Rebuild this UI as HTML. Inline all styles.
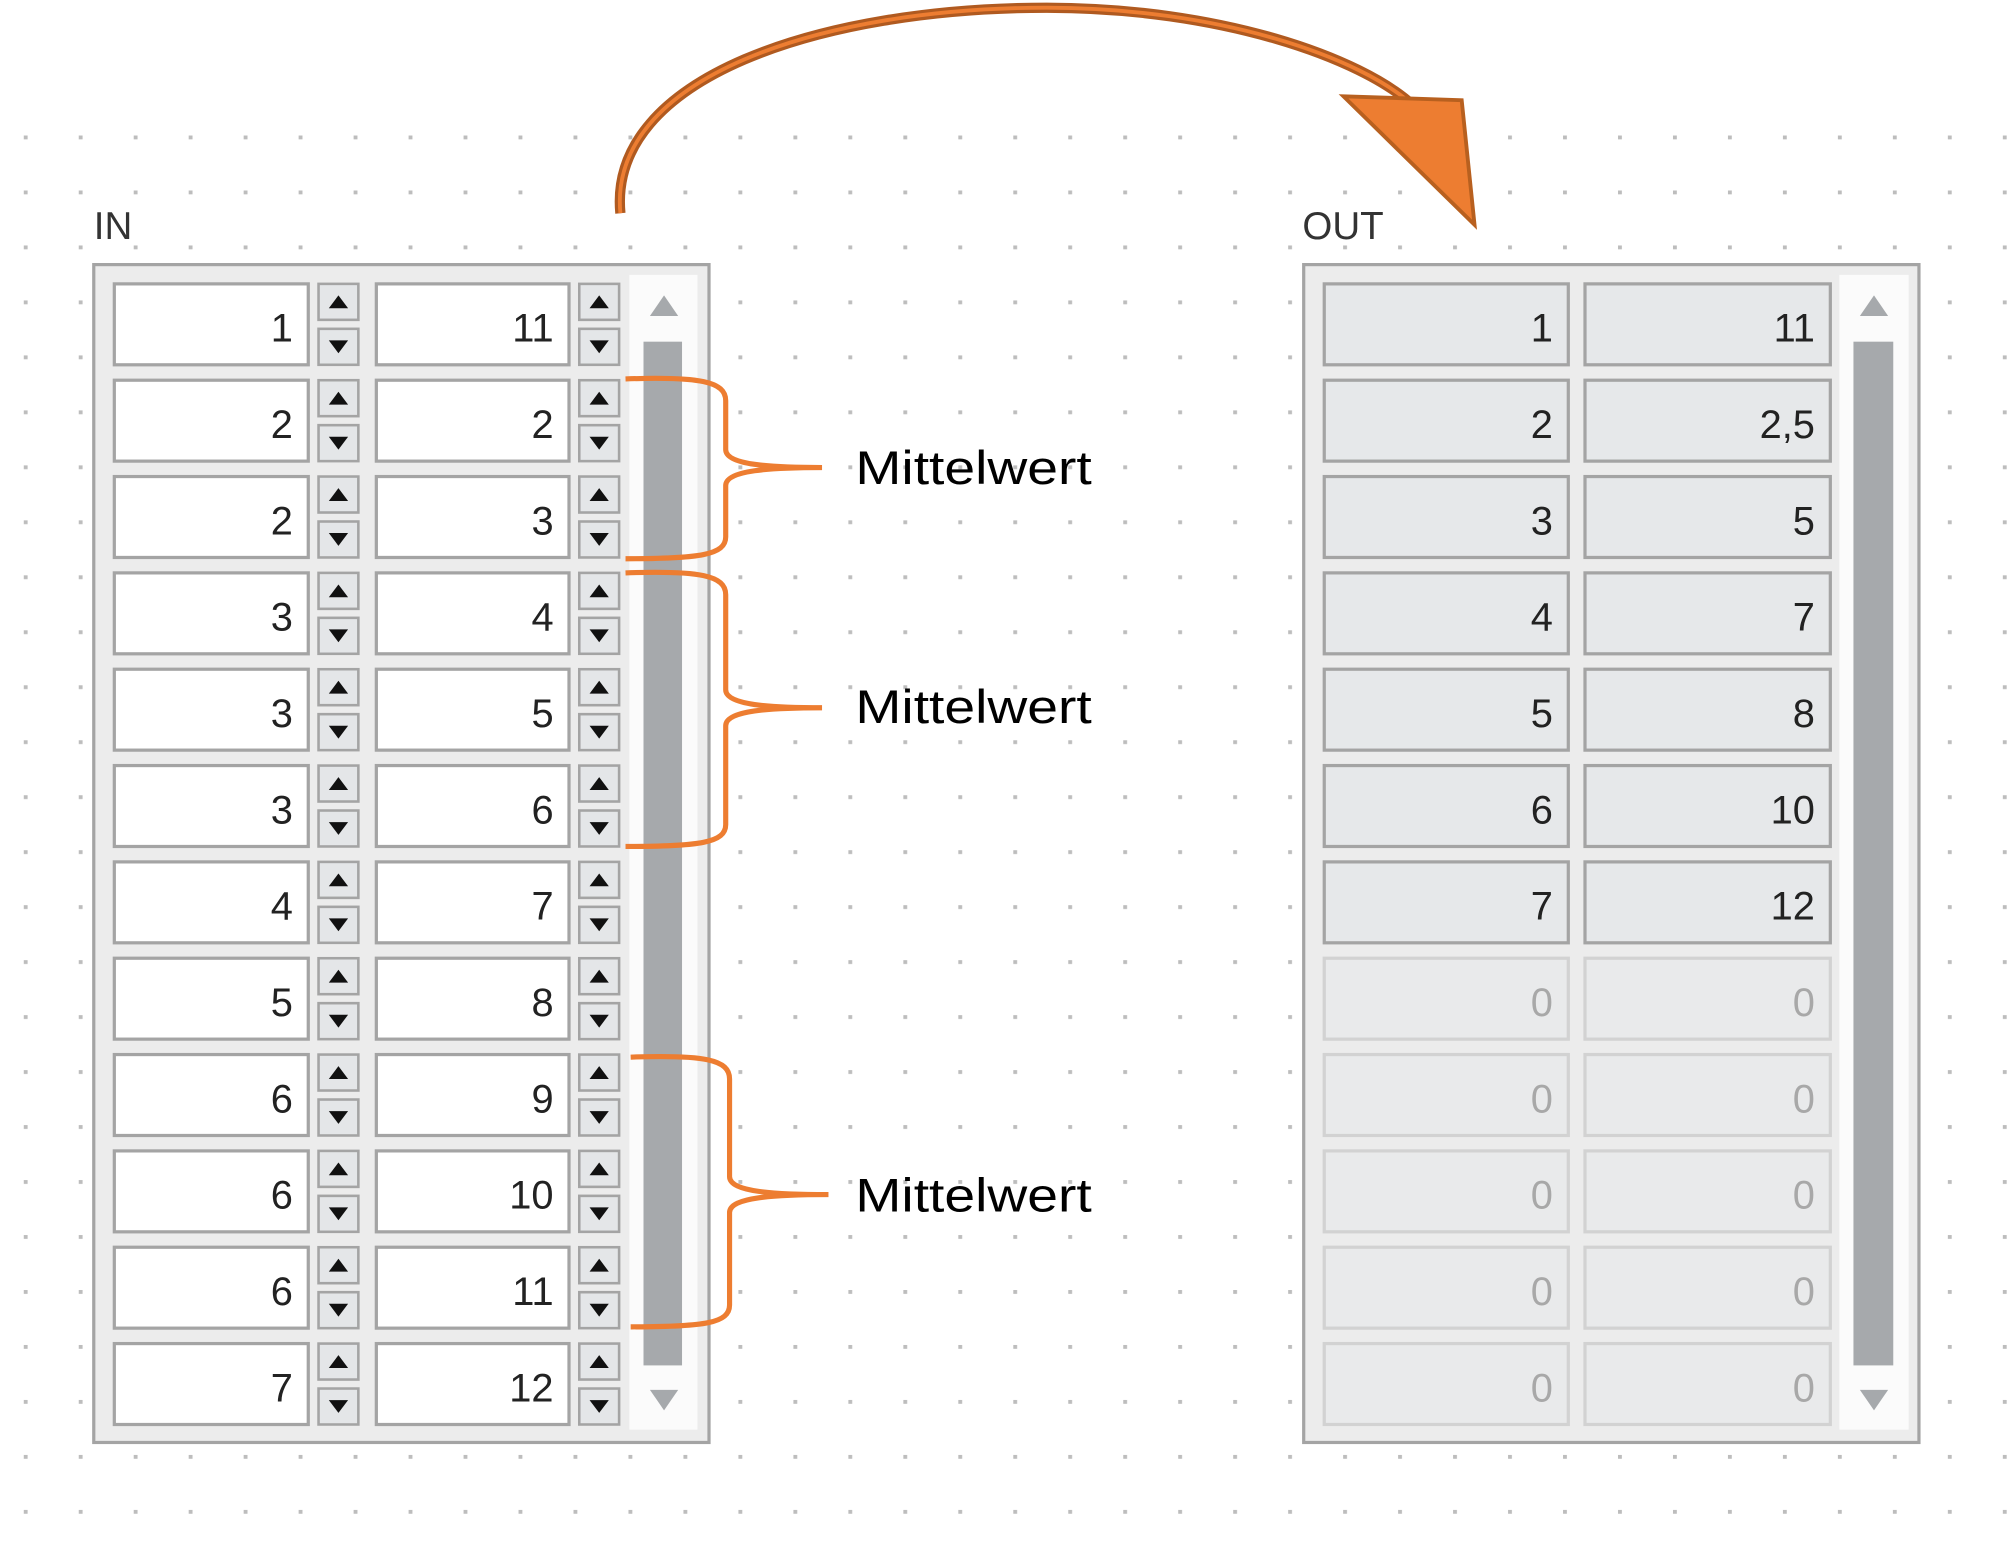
<!DOCTYPE html>
<html><head><meta charset="utf-8"><style>
html,body{margin:0;padding:0;background:#fff;}
svg{display:block;}
text{font-family:"Liberation Sans",sans-serif;}
</style></head><body>
<svg width="2014" height="1555" viewBox="0 0 1568 1210.6" preserveAspectRatio="none" xmlns="http://www.w3.org/2000/svg">
<defs>
<pattern id="dots" x="18.5" y="105.5" width="42.8" height="42.8" patternUnits="userSpaceOnUse">
<rect x="0" y="0" width="3" height="3" fill="#bdbdbd"/>
</pattern>
</defs>
<rect x="0" y="95" width="1568" height="1116" fill="url(#dots)"/>

<text x="73" y="186" font-size="30" fill="#333">IN</text>
<text x="1014" y="186" font-size="30" fill="#333">OUT</text>

<rect x="73" y="206" width="479" height="917" fill="#ececec" stroke="#a4a4a4" stroke-width="2.5"/>
<rect x="490" y="214" width="53" height="899" fill="#fbfbfb"/>
<rect x="501" y="266" width="30" height="797" fill="#a6a9ac"/>
<polygon points="506,246 517,230 528,246" fill="#a6a9ac"/>
<polygon points="506,1082 517,1098 528,1082" fill="#a6a9ac"/>

<rect x="1015" y="206" width="479" height="917" fill="#ececec" stroke="#a4a4a4" stroke-width="2.5"/>
<rect x="1432" y="214" width="54" height="899" fill="#fbfbfb"/>
<rect x="1443" y="266" width="31" height="797" fill="#a6a9ac"/>
<polygon points="1448,246 1459,230 1470,246" fill="#a6a9ac"/>
<polygon points="1448,1082 1459,1098 1470,1082" fill="#a6a9ac"/>

<g id="rows"></g>

<g fill="none" stroke="#ed7d31" stroke-width="4">
<path d="M487,295 C545,293 565,297 565,312 L565,350 C565,362 600,364 640,364 C600,364 565,366 565,378 L565,418 C565,432 545,435 487,435"/>
<path d="M487,446 C545,444 565,448 565,463 L565,537 C565,549 600,551 640,551 C600,551 565,553 565,565 L565,642 C565,656 545,659 487,659"/>
<path d="M491,823 C549,821 568,825 568,840 L568,916 C568,928 603,930 645,930 C603,930 568,932 568,944 L568,1016 C568,1030 549,1033 491,1033"/>
</g>
<g font-size="37" fill="#000">
<text x="666" y="377" textLength="184" lengthAdjust="spacingAndGlyphs">Mittelwert</text>
<text x="666" y="563" textLength="184" lengthAdjust="spacingAndGlyphs">Mittelwert</text>
<text x="666" y="943" textLength="184" lengthAdjust="spacingAndGlyphs">Mittelwert</text>
</g>

<path d="M483,166 C473,60 640,6 815,6 C950,6 1060,45 1100,82" fill="none" stroke="#b05a20" stroke-width="8"/>
<path d="M483,166 C473,60 640,6 815,6 C950,6 1060,45 1100,82" fill="none" stroke="#ed7d31" stroke-width="3"/>
<polygon points="1046,75 1138,78 1148,175" fill="#ed7d31" stroke="#b8601f" stroke-width="3"/>

<script>
(function(){
var ns="http://www.w3.org/2000/svg",g=document.getElementById("rows");
function el(t,a,txt){var e=document.createElementNS(ns,t);for(var k in a)e.setAttribute(k,a[k]);if(txt!==undefined)e.textContent=txt;g.appendChild(e);return e;}
var inA=[1,2,2,3,3,3,4,5,6,6,6,7],inB=[11,2,3,4,5,6,7,8,9,10,11,12];
var oA=["1","2","3","4","5","6","7","0","0","0","0","0"],oB=["11","2,5","5","7","8","10","12","0","0","0","0","0"];
for(var i=0;i<12;i++){
 var y=221+75*i;
 [[89,151,inA[i],248],[293,150,inB[i],451]].forEach(function(c){
  el("rect",{x:c[0],y:y,width:c[1],height:63,fill:"#fff",stroke:"#a4a4a4","stroke-width":2.5});
  el("text",{x:c[0]+c[1]-12,y:y+45,"font-size":31,"text-anchor":"end",fill:"#222"},String(c[2]));
  var sx=c[3];
  el("rect",{x:sx,y:y,width:31,height:28,fill:"#e4e6e8",stroke:"#a4a4a4","stroke-width":2});
  el("rect",{x:sx,y:y+35,width:31,height:28,fill:"#e4e6e8",stroke:"#a4a4a4","stroke-width":2});
  el("polygon",{points:(sx+8)+","+(y+19)+" "+(sx+15.5)+","+(y+9)+" "+(sx+23)+","+(y+19),fill:"#111"});
  el("polygon",{points:(sx+8)+","+(y+44)+" "+(sx+15.5)+","+(y+54)+" "+(sx+23)+","+(y+44),fill:"#111"});
 });
 var zero=i>=7;
 [[1031,190,oA[i]],[1234,191,oB[i]]].forEach(function(c){
  el("rect",{x:c[0],y:y,width:c[1],height:63,fill:zero?"#e9eaeb":"#e6e8ea",stroke:zero?"#d2d2d2":"#a4a4a4","stroke-width":2.5});
  el("text",{x:c[0]+c[1]-12,y:y+45,"font-size":31,"text-anchor":"end",fill:zero?"#a8a8a8":"#222"},c[2]);
 });
}
})();
</script>
</svg>
</body></html>
